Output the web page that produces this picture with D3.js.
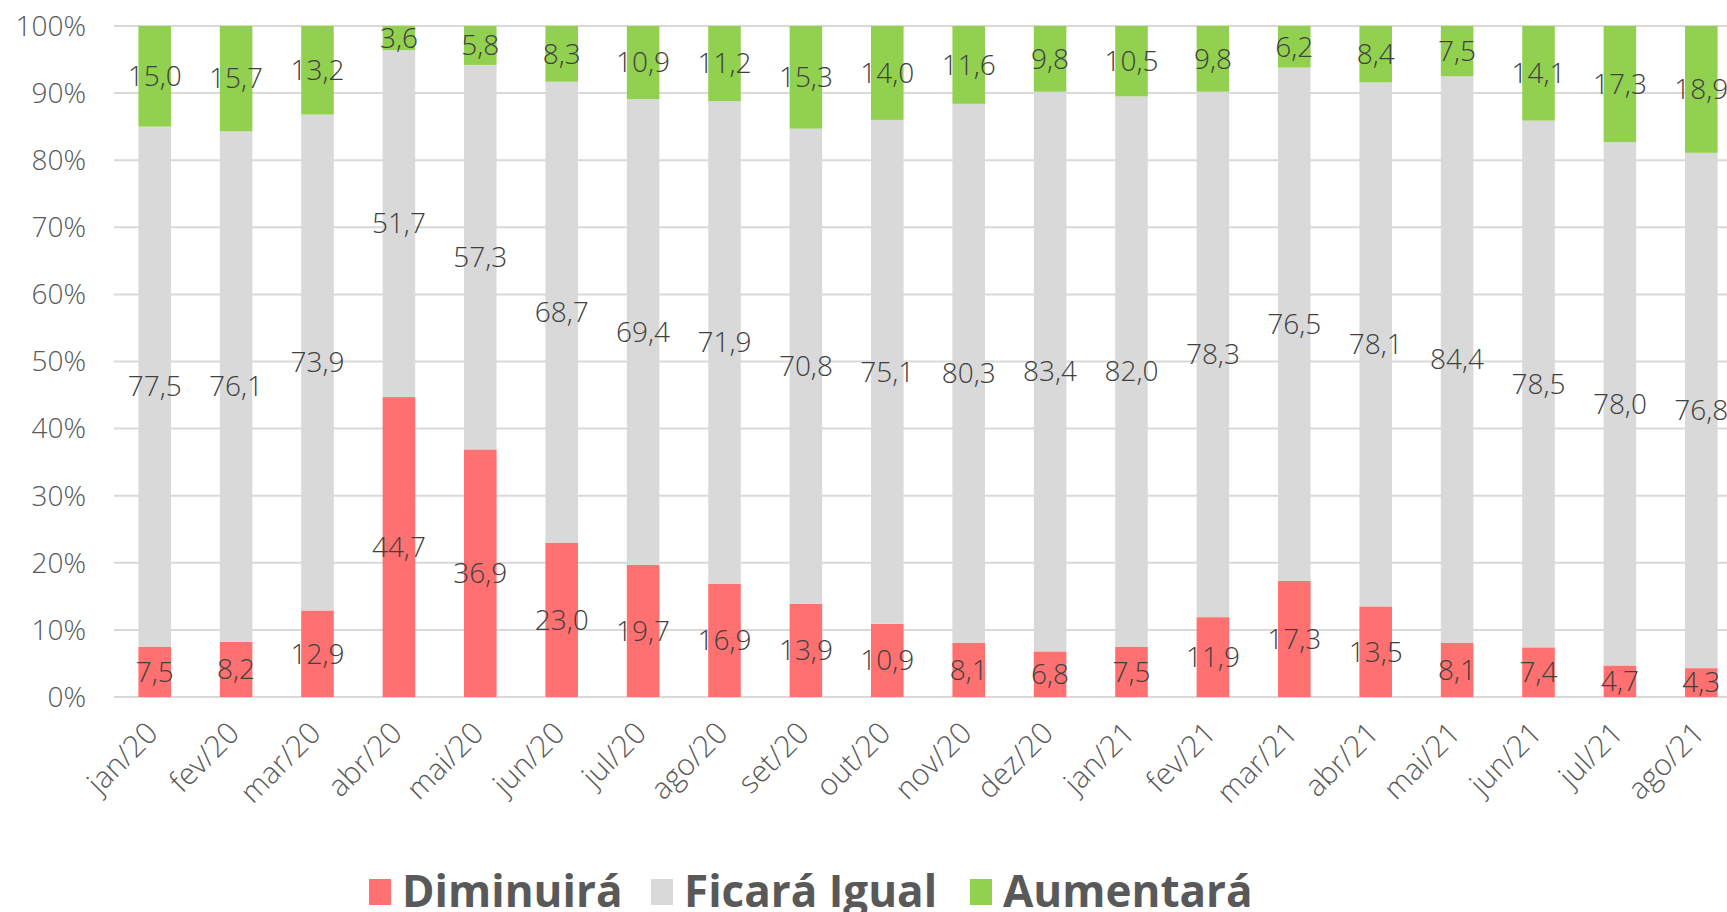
<!DOCTYPE html>
<head>
<meta charset="utf-8">
<script src="https://cdn.jsdelivr.net/npm/d3@7"></script>
<style>
  body { margin: 0; background: #fff; }
  svg text { font-family: "Open Sans", sans-serif; }
</style>
</head>
<body>
<svg id="chart" width="1727" height="912"></svg>
<script>
var months = ['jan/20','fev/20','mar/20','abr/20','mai/20','jun/20','jul/20','ago/20','set/20','out/20','nov/20','dez/20',
              'jan/21','fev/21','mar/21','abr/21','mai/21','jun/21','jul/21','ago/21']
var diminuira = [7.5, 8.2, 12.9, 44.7, 36.9, 23.0, 19.7, 16.9, 13.9, 10.9, 8.1, 6.8, 7.5, 11.9, 17.3, 13.5, 8.1, 7.4, 4.7, 4.3]
var ficaraIgual = [77.5, 76.1, 73.9, 51.7, 57.3, 68.7, 69.4, 71.9, 70.8, 75.1, 80.3, 83.4, 82.0, 78.3, 76.5, 78.1, 84.4, 78.5, 78.0, 76.8]
var aumentara = [15.0, 15.7, 13.2, 3.6, 5.8, 8.3, 10.9, 11.2, 15.3, 14.0, 11.6, 9.8, 10.5, 9.8, 6.2, 8.4, 7.5, 14.1, 17.3, 18.9]
var seriesNames = ['Diminuirá', 'Ficará Igual', 'Aumentará']
var colors = ['#ff7070', '#d9d9d9', '#92d050']
var yTicks = [0, 10, 20, 30, 40, 50, 60, 70, 80, 90, 100]

var svg = d3.select('#chart')
var plotLeft = 114, plotTop = 26, plotBottom = 697, plotRight = 114 + 20 * 81.4

var rows = months.map(function (m, i) {
  return { month: m, 'Diminuirá': diminuira[i], 'Ficará Igual': ficaraIgual[i], 'Aumentará': aumentara[i] }
})
var stacked = d3.stack().keys(seriesNames)(rows)

var x = d3.scaleBand().domain(months).range([plotLeft, plotRight]).paddingInner(0.6).paddingOuter(0.3)
var y = d3.scaleLinear().domain([0, 100]).range([plotBottom, plotTop])

// gridlines
svg.append('g').selectAll('line').data(yTicks).enter().append('line')
  .attr('x1', plotLeft).attr('x2', 1727)
  .attr('y1', function (d) { return y(d) }).attr('y2', function (d) { return y(d) })
  .attr('stroke', '#d9d9d9').attr('stroke-width', 2)

// y axis labels
svg.append('g').selectAll('text').data(yTicks).enter().append('text')
  .attr('x', 86).attr('y', function (d) { return y(d) })
  .attr('dy', '0.35em').attr('text-anchor', 'end')
  .attr('font-size', 28).attr('font-weight', 300).attr('fill', '#595959')
  .text(function (d) { return d + '%' })

// bars
var layers = svg.append('g').selectAll('g').data(stacked).enter().append('g')
  .attr('fill', function (d, i) { return colors[i] })
layers.selectAll('rect').data(function (d) { return d }).enter().append('rect')
  .attr('x', function (d) { return x(d.data.month) })
  .attr('width', x.bandwidth())
  .attr('y', function (d) { return y(d[1]) })
  .attr('height', function (d) { return y(d[0]) - y(d[1]) })

// value labels
var fmt = function (v) { return v.toFixed(1).replace('.', ',') }
svg.append('g').selectAll('g').data(stacked).enter().append('g')
  .selectAll('text').data(function (d) { return d.map(function (p) { return { p: p, key: d.key } }) })
  .enter().append('text')
  .attr('x', function (d) { return x(d.p.data.month) + x.bandwidth() / 2 })
  .attr('y', function (d) { return y((d.p[0] + d.p[1]) / 2) })
  .attr('dy', '0.35em').attr('text-anchor', 'middle')
  .attr('font-size', 28).attr('font-weight', 300).attr('fill', '#404040')
  .text(function (d) { return fmt(d.p.data[d.key]) })

// x axis labels
svg.append('g').selectAll('text').data(months).enter().append('text')
  .attr('transform', function (d) { return 'translate(' + (x(d) + x.bandwidth() / 2 + 5) + ',' + 735 + ') rotate(-45)' })
  .attr('text-anchor', 'end')
  .attr('font-size', 30).attr('font-weight', 300).attr('fill', '#595959')
  .text(function (d) { return d })

// legend
var legendX = [369, 651, 970]
var legend = svg.append('g').selectAll('g').data(seriesNames).enter().append('g')
  .attr('transform', function (d, i) { return 'translate(' + legendX[i] + ',879)' })
legend.append('rect').attr('width', 22).attr('height', 26)
  .attr('fill', function (d, i) { return colors[i] })
legend.append('text').attr('x', 33).attr('y', 28)
  .attr('font-size', 44).attr('font-weight', 700).attr('fill', '#595959')
  .text(function (d) { return d })
</script>
</body>
